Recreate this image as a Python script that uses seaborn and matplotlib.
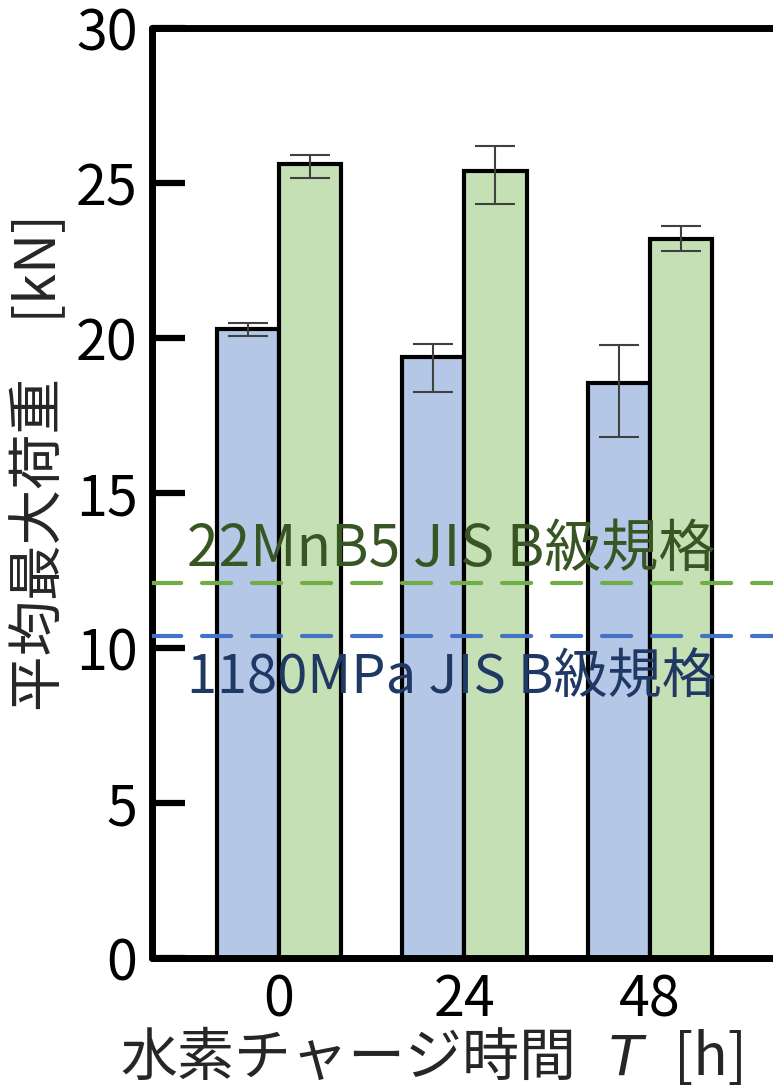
import matplotlib
matplotlib.use("Agg")
import matplotlib.pyplot as plt
import pandas as pd
import seaborn as sns

# Hydrogen charging time categories and steel grades
hours = ["0", "24", "48"]
steels = ["1180MPa", "22MnB5"]

# Mean maximum load [kN] with min / max range
load_1180 = [20.30, 19.40, 18.55]
load_1180_low = [20.05, 18.27, 16.80]
load_1180_high = [20.50, 19.80, 19.78]

load_22mnb5 = [25.60, 25.40, 23.20]
load_22mnb5_low = [25.17, 24.33, 22.81]
load_22mnb5_high = [25.90, 26.20, 23.60]

# JIS class-B requirement levels [kN]
jis_1180 = 10.4
jis_22mnb5 = 12.1

y_ticks = [0, 5, 10, 15, 20, 25, 30]

sns.set_theme(style="white")
plt.rcParams["font.family"] = ["Noto Sans CJK JP", "DejaVu Sans"]

W, H = 773, 1089
fig = plt.figure(figsize=(W / 100, H / 100), dpi=100)
ax = fig.add_axes([151.5 / W, 131 / H, 626 / W, 930 / H])

df = pd.DataFrame({
    "time": hours * 2,
    "steel": [steels[0]] * len(hours) + [steels[1]] * len(hours),
    "load": load_1180 + load_22mnb5,
})

sns.barplot(data=df, x="time", y="load", hue="steel", order=hours,
            hue_order=steels, palette=["#B4C7E7", "#C5E0B4"], width=0.67,
            errorbar=None, edgecolor="black", linewidth=3, saturation=1,
            legend=False, ax=ax)

# min/max range bars
ranges = [(load_1180_low, load_1180_high), (load_22mnb5_low, load_22mnb5_high)]
for container, (lows, highs) in zip(ax.containers, ranges):
    xs, ys, lo, hi = [], [], [], []
    for bar, l, h in zip(container, lows, highs):
        x = bar.get_x() + bar.get_width() / 2
        y = bar.get_height()
        xs.append(x)
        ys.append(y)
        lo.append(y - l)
        hi.append(h - y)
    ax.errorbar(xs, ys, yerr=[lo, hi], fmt="none", ecolor="#404040",
                elinewidth=1.5, capsize=14.4, capthick=1.5, zorder=3)

# requirement lines
ax.axhline(jis_22mnb5, color="#70AD47", lw=3, dashes=(7, 5),
           dash_capstyle="round", zorder=4)
ax.axhline(jis_1180, color="#4472C4", lw=3, dashes=(7, 5),
           dash_capstyle="round", zorder=4)

ax.text(0.93, 13.16, "22MnB5 JIS B級規格", color="#375623", fontsize=41,
        ha="center", va="center", zorder=5)
ax.text(0.93, 9.03, "1180MPa JIS B級規格", color="#1F3864", fontsize=39,
        ha="center", va="center", zorder=5)

ax.set_xlim(-0.687, 2.688)
ax.set_ylim(0, 30)
ax.set_yticks(y_ticks)
ax.set_yticklabels([str(v) for v in y_ticks])
ax.set_xlabel("")
ax.set_ylabel("")

for side in ["left", "top", "bottom", "right"]:
    ax.spines[side].set_visible(True)
    ax.spines[side].set_color("black")
    ax.spines[side].set_linewidth(5)
    ax.spines[side].set_capstyle("round")

ax.tick_params(axis="y", direction="in", length=24, width=4.5,
               labelsize=40, pad=10, colors="black", left=True)
ax.tick_params(axis="x", length=0, labelsize=40, pad=10, colors="black")

# axis titles
fig.text(40 / W, 1 - 462 / H, "平均最大荷重　[kN]", rotation=90,
         ha="center", va="center", fontsize=40)
fig.text(120 / W, 1 - 1059 / H, "水素チャージ時間", ha="left", va="center",
         fontsize=41)
fig.text(626 / W, 1 - 1059 / H, "T", ha="center", va="center", fontsize=40,
         family=["DejaVu Sans"], style="italic")
fig.text(710 / W, 1 - 1059 / H, "[h]", ha="center", va="center", fontsize=41)

fig.savefig("out.png", dpi=100, facecolor="white")
